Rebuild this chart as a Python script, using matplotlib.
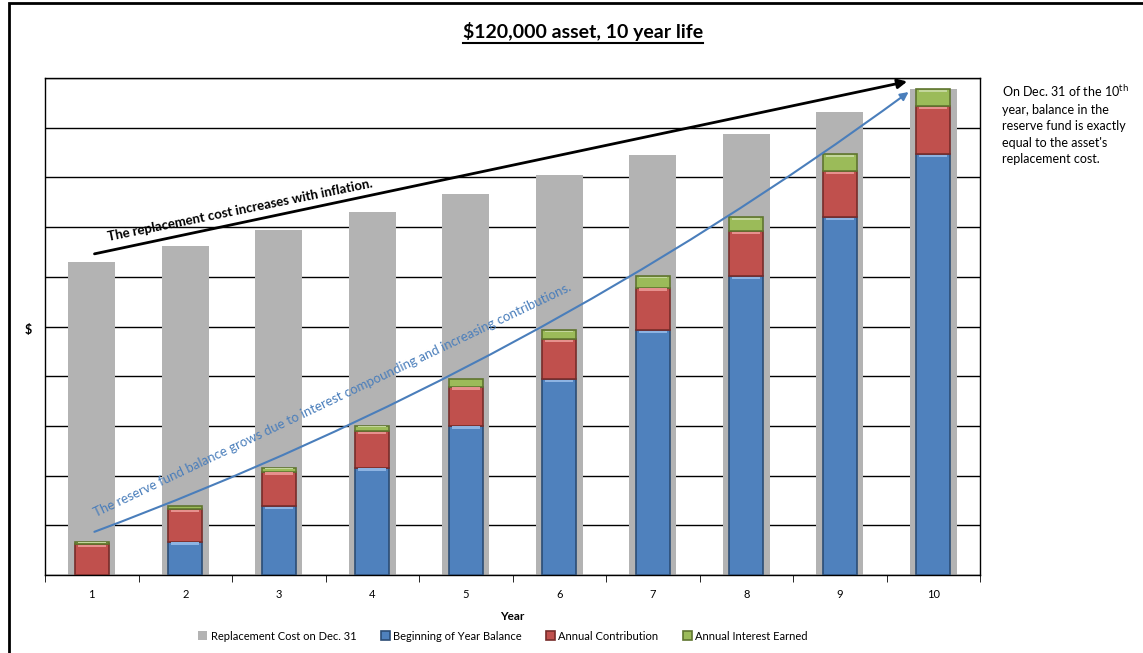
import numpy as np
import matplotlib
matplotlib.use("Agg")
import matplotlib.pyplot as plt
from matplotlib.patches import Rectangle
from matplotlib.lines import Line2D

plt.rcParams['font.family'] = ['Lato', 'DejaVu Sans']

## data (dollars) ##
years = [1, 2, 3, 4, 5, 6, 7, 8, 9, 10]
replacement_cost = [126000, 132300, 138900, 145900, 153200, 160800, 168900, 177300, 186200, 195500]
begin_balance = [0, 13400, 27800, 43200, 60100, 78900, 98600, 120300, 143900, 169400]
contribution = [12450, 13150, 13800, 14600, 15700, 16000, 17000, 18100, 18650, 19300]
interest = [950, 1250, 1600, 2300, 3100, 3700, 4700, 5500, 6850, 6800]

labels = ['Replacement Cost on Dec. 31', 'Beginning of Year Balance',
          'Annual Contribution', 'Annual Interest Earned']
colors = ['#b3b3b3', '#4f81bd', '#c0504d', '#9bbb59']
edges = ['#b3b3b3', '#2c4d75', '#772c2a', '#5f7530']
lights = ['#b3b3b3', '#8db3e2', '#e6908d', '#c3d69b']

fig = plt.figure(figsize=(11.43, 6.53), dpi=100)
ax = fig.add_axes([0.0394, 0.1194, 0.818, 0.7612])

x = np.arange(len(years))
b = np.array(begin_balance)
c = np.array(contribution)
g = np.array(interest)

ax.bar(x, replacement_cost, width=0.5, color=colors[0], label=labels[0], zorder=2)
segs = [(b, np.zeros(10)), (c, b), (g, b + c)]
for i, (h, bot) in enumerate(segs):
    ax.bar(x, h, bottom=bot, width=0.36, color=colors[i + 1], edgecolor=edges[i + 1],
           linewidth=1.2, label=labels[i + 1], zorder=3)
    # light bevel strip along the top of each block
    top = np.where(h > 0, np.minimum(h * 0.12, 900), 0)
    ax.bar(x, top, bottom=bot + h - top - 250, width=0.3, color=lights[i + 1],
           linewidth=0, zorder=4)

ax.set_xlim(-0.5, 9.5)
ax.set_ylim(0, 200000)
ax.set_yticks(np.arange(0, 200001, 20000))
ax.set_yticklabels([])
ax.tick_params(axis='y', length=0)
ax.grid(axis='y', color='black', linewidth=1, zorder=1)
ax.set_axisbelow(True)

ax.set_xticks(x)
ax.set_xticklabels([str(y) for y in years], fontsize=8)
ax.set_xticks(np.arange(-0.5, 10, 1), minor=True)
ax.tick_params(axis='x', which='major', length=0, pad=10)
ax.tick_params(axis='x', which='minor', length=5, direction='out')
for s in ax.spines.values():
    s.set_color('black')
    s.set_linewidth(1)

ax.set_xlabel('Year', fontsize=8.5, fontweight='bold', labelpad=8)
fig.text(0.025, 0.495, '$', fontsize=9, fontweight='bold', ha='center', va='center')

## arrows and their notes ##
ax.annotate('', xy=(8.75, 198800), xytext=(0.0, 129000),
            arrowprops=dict(arrowstyle='-|>', color='black', lw=2, mutation_scale=14), zorder=5)
ax.annotate('', xy=(8.76, 195000), xytext=(0.0, 17000),
            arrowprops=dict(arrowstyle='-|>', color='#4a7ebb', lw=1.5, mutation_scale=12,
                            connectionstyle='arc3,rad=0.07'), zorder=5)
ax.text(1.59, 146800, 'The replacement cost increases with inflation.', fontsize=9.5,
        fontweight='bold', rotation=11.5, ha='center', va='center', rotation_mode='anchor', zorder=6)
ax.text(2.57, 70400, 'The reserve fund balance grows due to interest compounding and increasing contributions.',
        fontsize=9.5, color='#4a7ebb', rotation=25.5, ha='center', va='center',
        rotation_mode='anchor', zorder=6)

fig.text(0.877, 0.872, 'On Dec. 31 of the 10$^{\\rm th}$\nyear, balance in the\nreserve fund is exactly\n'
         'equal to the asset\'s\nreplacement cost.', fontsize=9, ha='left', va='top', linespacing=1.45)

## title with underline ##
title = fig.text(0.51, 0.951, '$120,000 asset, 10 year life', fontsize=14, fontweight='bold',
                 ha='center', va='center')
fig.canvas.draw()
bb = title.get_window_extent().transformed(fig.transFigure.inverted())
fig.add_artist(Line2D([bb.x0, bb.x1], [bb.y0 - 0.002, bb.y0 - 0.002], color='black', lw=1.5))

fig.legend(loc='center', bbox_to_anchor=(0.44, 0.026), ncol=4, fontsize=8, frameon=False,
           handlelength=0.8, handleheight=0.8, handletextpad=0.3, columnspacing=2.2)

## outer frame ##
fig.add_artist(Rectangle((0.008, -0.05), 1.1, 1.045, transform=fig.transFigure,
                         fill=False, edgecolor='black', lw=2))

fig.savefig('out.png', dpi=100)
